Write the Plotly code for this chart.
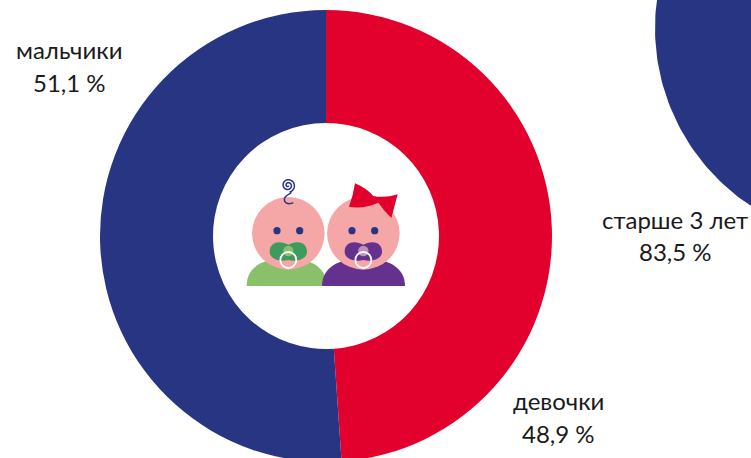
import numpy as np
import plotly.graph_objects as go

W, H = 751, 472  # page is cropped to the 458 px window

gender_labels = ["девочки", "мальчики"]
gender_values = [48.9, 51.1]
gender_colors = ["#E2002D", "#283583"]
age_labels = ["младше 3 лет", "старше 3 лет"]
age_values = [16.5, 83.5]
age_colors = ["#E2002D", "#283583"]

FONT = "Lato, Carlito, sans-serif"
FS = 24


def px(x, y):
    return x / W, 1 - y / H


def zp(x, y):
    # coordinates as measured in the 3x zoom of the icon
    a, b = px(230 + x / 3, 160 + y / 3)
    return f"{a:.5f},{b:.5f}"


def circle(cx, cy, r, fill, line=None, lw=0):
    x0, y0 = px(cx - r, cy - r)
    x1, y1 = px(cx + r, cy + r)
    return dict(type="circle", xref="paper", yref="paper", x0=x0, x1=x1, y0=y0, y1=y1,
                fillcolor=fill, line=dict(color=line or fill, width=lw), layer="above")


def path(d, fill="rgba(0,0,0,0)", line=None, lw=0):
    return dict(type="path", xref="paper", yref="paper", path=d, fillcolor=fill,
                line=dict(color=line or "rgba(0,0,0,0)", width=lw), layer="above")


def P(cmds):
    out = []
    for c in cmds:
        if isinstance(c, str):
            out.append(c)
        else:
            out.append(zp(*c))
    return " ".join(out)


fig = go.Figure()

# second ring, mostly outside of the visible page
cx2, cy2, r2 = 868, 28, 213
start = 0.0
for name, v, col in zip(age_labels, age_values, age_colors):
    t = np.radians(np.linspace(start, start + v * 3.6, 240))
    xs = np.r_[cx2 + r2 * np.sin(t), cx2 + r2 / 2 * np.sin(t[::-1])]
    ys = np.r_[cy2 - r2 * np.cos(t), cy2 - r2 / 2 * np.cos(t[::-1])]
    fig.add_trace(go.Scatter(x=xs, y=ys, mode="lines", fill="toself", fillcolor=col,
                             line=dict(width=0, color=col), name=name, hoverinfo="name",
                             showlegend=False))
    start += v * 3.6

# main ring
fig.add_trace(go.Pie(labels=gender_labels, values=gender_values, hole=0.5, sort=False,
                     direction="clockwise", rotation=0, textinfo="none",
                     marker=dict(colors=gender_colors, line=dict(width=0)),
                     domain=dict(x=[100 / W, 552 / W], y=[1 - 462 / H, 1 - 10 / H]),
                     showlegend=False))

GREEN, PURPLE = "#8ABF6B", "#65318E"
SKIN, NAVY = "#F5A6A6", "#283583"
shapes = []


def body(x0, x1, col):
    m = (x0 + x1) / 2
    return path(P(["M", (x0, 378), "C", (x0, 320), (m - 70, 295), (m, 295), "S", (x1, 320), (x1, 378), "Z"]), col)


def pacifier(m, col):
    return path(P(["M", (m - 56, 275), "C", (m - 56, 245), (m - 25, 240), (m, 254),
                   "C", (m + 25, 240), (m + 56, 245), (m + 56, 275),
                   "C", (m + 56, 298), (m + 25, 306), (m, 300),
                   "C", (m - 25, 306), (m - 56, 298), (m - 56, 275), "Z"]), col)


shapes += [body(50, 290, GREEN), body(276, 525, PURPLE)]
for hx in (175, 400):
    shapes.append(circle(230 + hx / 3, 160 + 220 / 3, 36.3, SKIN))
    for dx in (-34, 34):
        shapes.append(circle(230 + (hx + dx) / 3, 160 + 212 / 3, 3.6, NAVY))
shapes += [pacifier(175, "#3E9B5E"), pacifier(400, PURPLE)]
shapes += [circle(230 + 175 / 3, 160 + 273 / 3, 5.2, GREEN), circle(230 + 400 / 3, 160 + 273 / 3, 5.2, "#C78FB5")]
for hx in (175, 400):
    shapes.append(circle(230 + hx / 3, 160 + 300 / 3, 8, "rgba(0,0,0,0)", "white", 1.8))

# bow
shapes.append(path(P(["M", (375, 70), "Q", (410, 85), (430, 108), "Q", (465, 115), (503, 103),
                      "L", (484, 174), "Q", (460, 150), (445, 128), "Q", (400, 148), (357, 140),
                      "Q", (370, 105), (375, 70), "Z"]), "#E2002D"))
# curl
th = np.linspace(0, 4.2 * np.pi, 50)
sp = [(174 + (2 + 19 * a / th[-1]) * np.cos(a + 0.6), 76 + (2 + 19 * a / th[-1]) * np.sin(a + 0.6)) for a in th]
cmds = ["M", sp[0]]
for s in sp[1:]:
    cmds += ["L", s]
cmds += ["C", (190, 100), (160, 105), (163, 120), "C", (165, 133), (180, 133), (190, 128)]
shapes.append(path(P(cmds), line=NAVY, lw=1.5))

label_rows = [
    ("мальчики", 69, 50), ("51,1 %", 69, 83),
    ("девочки", 558, 400), ("48,9 %", 558, 433),
    ("старше 3 лет", 675, 219), ("83,5 %", 675, 251),
]
annotations = [
    dict(text=t, x=x / W, y=1 - y / H, xref="paper", yref="paper", showarrow=False,
         xanchor="center", yanchor="middle", font=dict(family=FONT, size=FS, color="#1a1a1a"))
    for t, x, y in label_rows
]

fig.update_layout(
    width=W, height=H, margin=dict(l=0, r=0, t=0, b=0, autoexpand=False),
    paper_bgcolor="white", plot_bgcolor="white", showlegend=False,
    xaxis=dict(range=[0, W], visible=False, fixedrange=True, domain=[0, 1]),
    yaxis=dict(range=[H, 0], visible=False, fixedrange=True, domain=[0, 1]),
    shapes=shapes, annotations=annotations,
)

fig.write_html("out.html", config=dict(displayModeBar=False),
               post_script="document.documentElement.style.overflow='hidden';document.body.style.overflow='hidden';document.body.style.margin='0';")
